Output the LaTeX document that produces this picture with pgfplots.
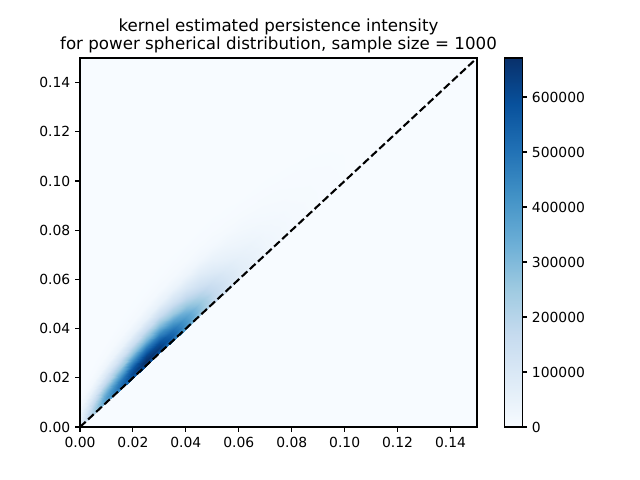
\documentclass[border=0pt]{standalone}
\usepackage{pgfplots}
\pgfplotsset{compat=1.18}
\usepackage{fontspec}
\setmainfont{DejaVu Sans}
\definecolor{bgblue}{RGB}{247,251,255}
\pgfplotsset{colormap={mplblues}{rgb255=(247,251,255) rgb255=(222,235,247) rgb255=(198,219,239) rgb255=(158,202,225) rgb255=(107,174,214) rgb255=(66,146,198) rgb255=(33,113,181) rgb255=(8,81,156) rgb255=(8,48,107)}}
\begin{document}
\begin{tikzpicture}
\useasboundingbox (0,0) rectangle (460.8pt,345.6pt);
\begin{axis}[
  at={(57.6pt,38.16pt)}, anchor=south west,
  scale only axis, width=285.84pt, height=265.68pt,
  xmin=0, xmax=0.15, ymin=0, ymax=0.15,
  axis background/.style={fill=bgblue},
  axis on top,
  colormap name=mplblues,
  point meta min=0, point meta max=671000,
  colorbar,
  colorbar style={
    width=13pt,
    at={(parent axis.north east)}, anchor=north west, xshift=11pt,
    ytick={0,100000,200000,300000,400000,500000,600000},
    scaled y ticks=false,
    ytick pos=right, yticklabel pos=right,
    yticklabel style={/pgf/number format/.cd, fixed, 1000 sep={}, assume math mode=true},
    tick align=outside, major tick length=3.5pt,
    every tick/.style={black, line width=0.8pt},
    axis line style={line width=0.8pt},
    ticklabel style={font=\fontsize{10}{12}\selectfont},
  },
  xtick={0,0.02,0.04,0.06,0.08,0.1,0.12,0.14},
  ytick={0,0.02,0.04,0.06,0.08,0.1,0.12,0.14},
  scaled ticks=false,
  xticklabel style={/pgf/number format/.cd, fixed, fixed zerofill, precision=2, assume math mode=true},
  yticklabel style={/pgf/number format/.cd, fixed, fixed zerofill, precision=2, assume math mode=true},
  ticklabel style={font=\fontsize{10}{12}\selectfont},
  tick align=outside, tick pos=left, major tick length=3.5pt,
  every tick/.style={black, line width=0.8pt},
  axis line style={line width=0.8pt},
  title={kernel estimated persistence intensity\\for power spherical distribution, sample size = 1000},
  title style={align=center, font=\fontsize{12}{13.2}\selectfont, yshift=-6pt},
]
\addplot[surf, shader=interp, point meta=explicit] table[x=x, y=y, meta=f] {
x y f
0 0 54000
0 0.0011 60000
0 0.0022 55800
0 0.00385 43200
0 0.0055 28800
0 0.007975 14400
0 0.01045 4800
0 0.0132 1200
0 0.0165 240
0 0.0209 30

0.005 0.005 198000
0.005 0.0064 220000
0.005 0.0078 204600
0.005 0.0099 158400
0.005 0.012 105600
0.005 0.01515 52800
0.005 0.0183 17600
0.005 0.0218 4400
0.005 0.026 880
0.005 0.0316 110

0.01 0.01 351000
0.01 0.0116 390000
0.01 0.0132 362700
0.01 0.0156 280800
0.01 0.018 187200
0.01 0.0216 93600
0.01 0.0252 31200
0.01 0.0292 7800
0.01 0.034 1560
0.01 0.0404 195

0.015 0.015 459000
0.015 0.0168 510000
0.015 0.0186 474300
0.015 0.0213 367200
0.015 0.024 244800
0.015 0.02805 122400
0.015 0.0321 40800
0.015 0.0366 10200
0.015 0.042 2040
0.015 0.0492 255

0.02 0.02 553500
0.02 0.0219 615000
0.02 0.0238 571950
0.02 0.02665 442800
0.02 0.0295 295200
0.02 0.033775 147600
0.02 0.03805 49200
0.02 0.0428 12300
0.02 0.0485 2460
0.02 0.0561 308

0.025 0.025 603900
0.025 0.027 671000
0.025 0.029 624030
0.025 0.032 483120
0.025 0.035 322080
0.025 0.0395 161040
0.025 0.044 53680
0.025 0.049 13420
0.025 0.055 2684
0.025 0.063 336

0.03 0.03 576000
0.03 0.0321 640000
0.03 0.0342 595200
0.03 0.03735 460800
0.03 0.0405 307200
0.03 0.045225 153600
0.03 0.04995 51200
0.03 0.0552 12800
0.03 0.0615 2560
0.03 0.0699 320

0.035 0.035 486000
0.035 0.0372 540000
0.035 0.0394 502200
0.035 0.0427 388800
0.035 0.046 259200
0.035 0.05095 129600
0.035 0.0559 43200
0.035 0.0614 10800
0.035 0.068 2160
0.035 0.0768 270

0.04 0.04 369000
0.04 0.0423 410000
0.04 0.0446 381300
0.04 0.04805 295200
0.04 0.0515 196800
0.04 0.056675 98400
0.04 0.06185 32800
0.04 0.0676 8200
0.04 0.0745 1640
0.04 0.0837 205

0.045 0.045 261000
0.045 0.0474 290000
0.045 0.0498 269700
0.045 0.0534 208800
0.045 0.057 139200
0.045 0.0624 69600
0.045 0.0678 23200
0.045 0.0738 5800
0.045 0.081 1160
0.045 0.0906 145

0.05 0.05 171000
0.05 0.0525 190000
0.05 0.055 176700
0.05 0.05875 136800
0.05 0.0625 91200
0.05 0.068125 45600
0.05 0.07375 15200
0.05 0.08 3800
0.05 0.0875 760
0.05 0.0975 95

0.055 0.055 108000
0.055 0.0576 120000
0.055 0.0602 111600
0.055 0.0641 86400
0.055 0.068 57600
0.055 0.07385 28800
0.055 0.0797 9600
0.055 0.0862 2400
0.055 0.094 480
0.055 0.1044 60

0.06 0.06 67500
0.06 0.0627 75000
0.06 0.0654 69750
0.06 0.06945 54000
0.06 0.0735 36000
0.06 0.079575 18000
0.06 0.08565 6000
0.06 0.0924 1500
0.06 0.1005 300
0.06 0.1113 38

0.07 0.07 27000
0.07 0.0729 30000
0.07 0.0758 27900
0.07 0.08015 21600
0.07 0.0845 14400
0.07 0.091025 7200
0.07 0.09755 2400
0.07 0.1048 600
0.07 0.1135 120
0.07 0.1251 15

0.08 0.08 10800
0.08 0.0831 12000
0.08 0.0862 11160
0.08 0.09085 8640
0.08 0.0955 5760
0.08 0.102475 2880
0.08 0.10945 960
0.08 0.1172 240
0.08 0.1265 48
0.08 0.1389 6

0.09 0.09 4500
0.09 0.0933 5000
0.09 0.0966 4650
0.09 0.10155 3600
0.09 0.1065 2400
0.09 0.113925 1200
0.09 0.12135 400
0.09 0.1296 100
0.09 0.1395 20
0.09 0.1527 2

0.1 0.1 1800
0.1 0.1035 2000
0.1 0.107 1860
0.1 0.11225 1440
0.1 0.1175 960
0.1 0.125375 480
0.1 0.13325 160
0.1 0.142 40
0.1 0.1525 8
0.1 0.1665 1
};
\addplot[black, line width=1.5pt, dash pattern=on 5.55pt off 2.4pt] coordinates {(0,0) (0.15,0.15)};
\end{axis}
\end{tikzpicture}
\end{document}
